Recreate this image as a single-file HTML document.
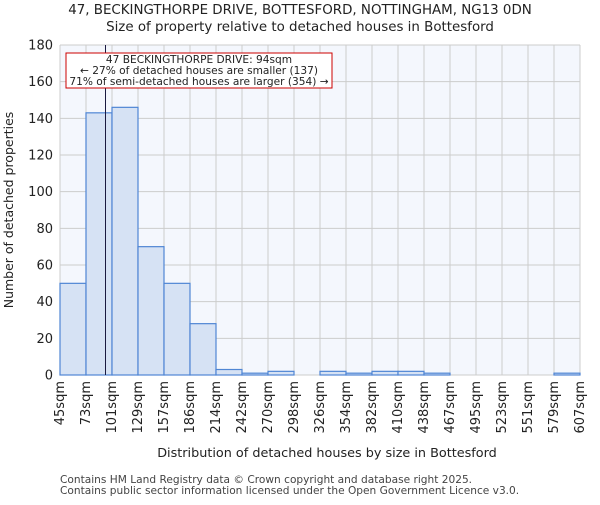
<!DOCTYPE html>
<html><head><meta charset="utf-8"><style>
body{margin:0;background:#fff;font-family:"Liberation Sans","DejaVu Sans",sans-serif;}
</style></head><body>
<svg width="600" height="500" xmlns="http://www.w3.org/2000/svg" font-family="DejaVu Sans, Liberation Sans, sans-serif">
<text x="300" y="14" text-anchor="middle" font-size="13.4" fill="#222">47, BECKINGTHORPE DRIVE, BOTTESFORD, NOTTINGHAM, NG13 0DN</text>
<text x="300" y="31" text-anchor="middle" font-size="13.4" fill="#222">Size of property relative to detached houses in Bottesford</text>
<rect x="60" y="45" width="520" height="330" fill="#f4f7fd"/>
<g id="grid"></g>
<g id="bars"></g>
<g id="yticks"></g>
<g id="xticks"></g>
<line id="marker" stroke="#1a1a40" stroke-width="1"/>
<rect x="66" y="53" width="266" height="35" fill="#fff" stroke="#cc0000" stroke-width="1"/>
<text x="199" y="63" text-anchor="middle" font-size="10.6" fill="#222">47 BECKINGTHORPE DRIVE: 94sqm</text>
<text x="199" y="74" text-anchor="middle" font-size="10.6" fill="#222">← 27% of detached houses are smaller (137)</text>
<text x="199" y="85" text-anchor="middle" font-size="10.6" fill="#222">71% of semi-detached houses are larger (354) →</text>
<text x="327" y="457" text-anchor="middle" font-size="12.8" fill="#222">Distribution of detached houses by size in Bottesford</text>
<text transform="translate(13,210) rotate(-90)" text-anchor="middle" font-size="12.5" fill="#222">Number of detached properties</text>
<text x="60" y="483" font-size="10.6" fill="#444">Contains HM Land Registry data © Crown copyright and database right 2025.</text>
<text x="60" y="494" font-size="10.6" fill="#444">Contains public sector information licensed under the Open Government Licence v3.0.</text>
</svg>
<script>
const binLabels=["45sqm","73sqm","101sqm","129sqm","157sqm","186sqm","214sqm","242sqm","270sqm","298sqm","326sqm","354sqm","382sqm","410sqm","438sqm","467sqm","495sqm","523sqm","551sqm","579sqm","607sqm"];
const counts=[50,143,146,70,50,28,3,1,2,0,2,1,2,2,1,0,0,0,0,1];
const yTicks=[0,20,40,60,80,100,120,140,160,180];
const binEdges=[45,73,101,129,157,186,214,242,270,298,326,354,382,410,438,467,495,523,551,579,607];
const markerValue=94;
const NS="http://www.w3.org/2000/svg";
const X0=60,X1=580,Y0=375,Y1=45,YMAX=180;
const nb=counts.length, bw=(X1-X0)/nb;
const xIdx=i=>X0+i*bw;
const y=v=>Y0-(v/YMAX)*(Y0-Y1);
function mk(tag,attrs,parent){const e=document.createElementNS(NS,tag);for(const k in attrs)e.setAttribute(k,attrs[k]);document.getElementById(parent).appendChild(e);return e;}
for(let i=0;i<=nb;i++){const l=mk('line',{x1:xIdx(i),x2:xIdx(i),y1:Y1,y2:Y0,stroke:'#ccc','stroke-width':1},'grid');

}
yTicks.forEach(t=>{const l=mk('line',{x1:X0,x2:X1,y1:y(t),y2:y(t),stroke:'#ccc','stroke-width':1},'grid');


const tx=mk('text',{x:X0-7,y:y(t)+4.5,'text-anchor':'end','font-size':13,fill:'#222'},'yticks');tx.textContent=t;

});
counts.forEach((c,i)=>{if(c<=0)return;const r=mk('rect',{x:xIdx(i),y:y(c),width:bw,height:Y0-y(c),fill:'#d6e2f4',stroke:'#4f86d4','stroke-width':1.2},'bars');

});
binLabels.forEach((lb,i)=>{const cx=xIdx(i)+4;const tx=mk('text',{transform:`translate(${cx},381) rotate(-90)`,'text-anchor':'end','font-size':13,fill:'#222'},'xticks');tx.textContent=lb;

});
let k=0;while(k<binEdges.length-2&&markerValue>binEdges[k+1])k++;
const mx=xIdx(k)+(markerValue-binEdges[k])/(binEdges[k+1]-binEdges[k])*bw;
const m=document.getElementById('marker');m.setAttribute('x1',mx);m.setAttribute('x2',mx);m.setAttribute('y1',Y1);m.setAttribute('y2',Y0);
</script>
</body></html>
